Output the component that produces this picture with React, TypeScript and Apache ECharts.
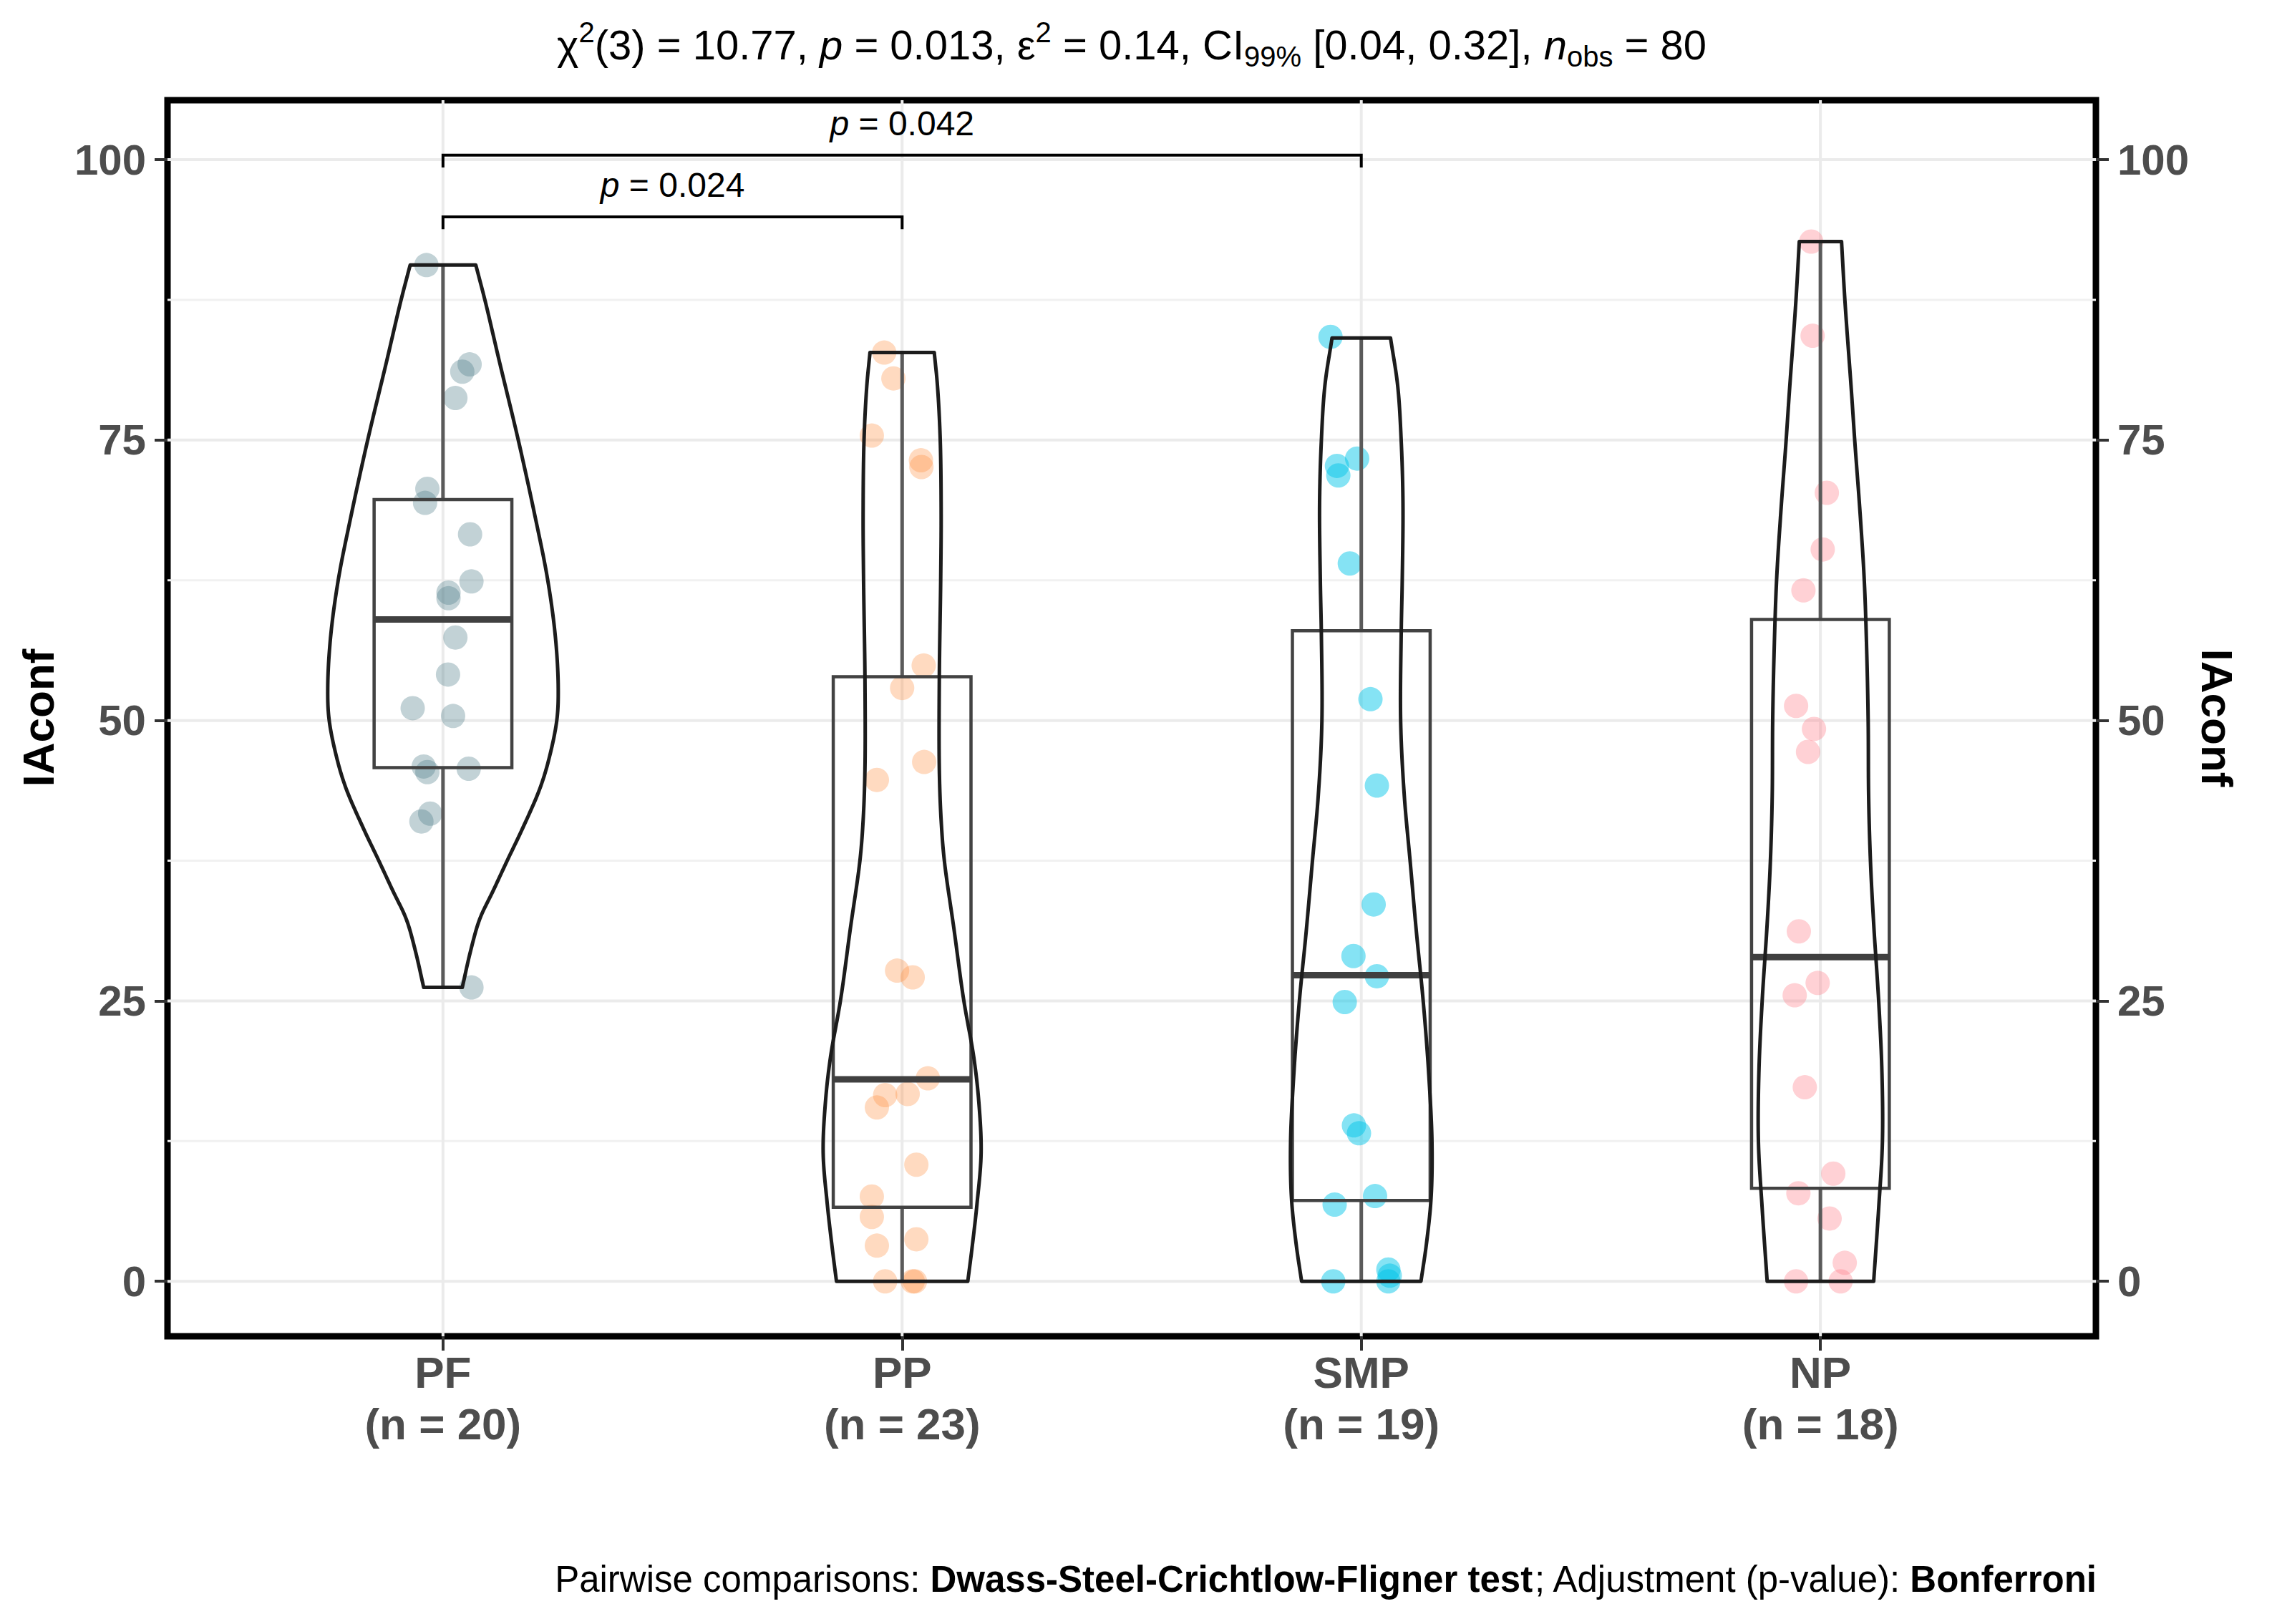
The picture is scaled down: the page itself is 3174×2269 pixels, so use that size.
import React, { useEffect, useRef } from "react";
import * as echarts from "echarts";

const FONT = "'Liberation Sans', Arial, Helvetica, sans-serif";

// ---------- data ----------
const categories = ["PF", "PP", "SMP", "NP"];
const groupSizes = [20, 23, 19, 18];
const pointColors = [
  "rgba(75,122,132,0.42)",
  "rgba(255,140,58,0.40)",
  "rgba(0,197,232,0.60)",
  "rgba(255,127,138,0.45)",
];

const pfValues = [90.6, 81.75, 81.1, 78.75, 70.65, 69.4, 66.6, 62.4, 61.4, 60.9, 57.4, 54.1, 51.1, 50.4, 45.9, 45.4, 45.7, 41.7, 41.0, 26.2];
const pfJitter = [-0.036, 0.058, 0.042, 0.027, -0.034, -0.039, 0.059, 0.062, 0.012, 0.012, 0.027, 0.011, -0.066, 0.022, -0.042, -0.034, 0.056, -0.028, -0.047, 0.062];

const ppValues = [82.8, 80.5, 75.4, 73.2, 72.6, 54.9, 52.9, 46.3, 44.7, 27.7, 27.1, 18.1, 16.6, 16.7, 15.5, 10.4, 7.56, 5.74, 3.18, 3.75, 0, 0, 0];
const ppJitter = [-0.039, -0.019, -0.066, 0.041, 0.042, 0.047, 0.0, 0.048, -0.055, -0.011, 0.023, 0.056, -0.037, 0.012, -0.055, 0.031, -0.066, -0.066, -0.055, 0.031, -0.037, 0.023, 0.028];

const smpValues = [84.2, 73.35, 72.7, 71.85, 64.0, 51.9, 44.2, 33.6, 29.0, 27.2, 24.9, 13.9, 13.2, 6.84, 7.6, 0, 1.05, 0, 0.5];
const smpJitter = [-0.067, -0.009, -0.053, -0.05, -0.025, 0.02, 0.034, 0.027, -0.017, 0.034, -0.036, -0.016, -0.005, -0.058, 0.03, -0.061, 0.059, 0.059, 0.062];

const npValues = [92.7, 84.3, 70.3, 65.25, 61.6, 51.3, 49.25, 47.2, 31.2, 26.6, 25.5, 17.3, 9.6, 7.85, 5.6, 1.65, 0, 0];
const npJitter = [-0.02, -0.017, 0.014, 0.005, -0.037, -0.053, -0.014, -0.027, -0.047, -0.006, -0.056, -0.034, 0.028, -0.048, 0.02, 0.053, -0.053, 0.044];

const groupValues = [pfValues, ppValues, smpValues, npValues];
const groupJitter = [pfJitter, ppJitter, smpJitter, npJitter];

// box statistics
const boxQ1 = [45.8, 6.6, 7.2, 8.3];
const boxMedian = [59.0, 18.0, 27.3, 28.9];
const boxQ3 = [69.7, 53.9, 58.0, 59.0];
const whiskerLow = [26.2, 0, 0, 0];
const whiskerHigh = [90.6, 82.8, 84.1, 92.7];

// violin outlines (value, half width in category units)
const pfViolinY = [90.6, 87.44, 81.98, 75.0, 68.1, 62.55, 57.36, 52.88, 50.06, 46.61, 43.93, 40.35, 37.52, 34.97, 32.29, 29.6, 26.2];
const pfViolinW = [0.0715, 0.0916, 0.123, 0.164, 0.201, 0.228, 0.245, 0.251, 0.248, 0.231, 0.211, 0.173, 0.14, 0.111, 0.08, 0.061, 0.042];
const ppViolinY = [82.8, 79.8, 75.0, 68.4, 62.55, 53.9, 45.6, 41.07, 37.48, 31.38, 25.11, 19.99, 16.0, 11.44, 6.88, 2.89, 0];
const ppViolinW = [0.07, 0.077, 0.083, 0.085, 0.084, 0.081, 0.081, 0.085, 0.092, 0.113, 0.134, 0.156, 0.167, 0.172, 0.163, 0.152, 0.143];
const smpViolinY = [84.1, 79.84, 74.9, 69.4, 62.46, 57.82, 49.88, 43.34, 37.37, 31.17, 24.92, 18.43, 12.35, 7.42, 3.37, 0];
const smpViolinW = [0.0637, 0.0793, 0.087, 0.0908, 0.0892, 0.087, 0.0858, 0.0936, 0.1066, 0.12, 0.135, 0.147, 0.154, 0.152, 0.142, 0.13];
const npViolinY = [92.7, 87.4, 79.3, 74.86, 68.53, 62.4, 55.9, 49.9, 43.25, 37.43, 31.87, 24.91, 18.6, 12.4, 6.59, 0];
const npViolinW = [0.046, 0.0534, 0.0676, 0.0749, 0.0863, 0.0956, 0.101, 0.104, 0.105, 0.109, 0.116, 0.127, 0.134, 0.135, 0.127, 0.116];

const violinY = [pfViolinY, ppViolinY, smpViolinY, npViolinY];
const violinW = [pfViolinW, ppViolinW, smpViolinW, npViolinW];

const yTicks = [0, 25, 50, 75, 100];
const yMinorGrid = [12.5, 37.5, 62.5, 87.5];

// pairwise comparisons
const sigFrom = [1, 1];
const sigTo = [3, 2];
const sigY = [100.4, 94.9];
const sigP = ["0.042", "0.024"];

// ---------- helpers ----------
function smoothPath(pts: number[][], steps = 12): number[][] {
  // centripetal Catmull-Rom through the outline points
  const out: number[][] = [];
  const n = pts.length;
  const ext = (i: number) => {
    if (i < 0) return [2 * pts[0][0] - pts[1][0], 2 * pts[0][1] - pts[1][1]];
    if (i >= n) return [2 * pts[n - 1][0] - pts[n - 2][0], 2 * pts[n - 1][1] - pts[n - 2][1]];
    return pts[i];
  };
  const tj = (ti: number, a: number[], b: number[]) => ti + Math.pow(Math.hypot(b[0] - a[0], b[1] - a[1]) || 1e-6, 0.5);
  for (let i = 0; i < n - 1; i++) {
    const p0 = ext(i - 1);
    const p1 = pts[i];
    const p2 = pts[i + 1];
    const p3 = ext(i + 2);
    const t0 = 0;
    const t1 = tj(t0, p0, p1);
    const t2 = tj(t1, p1, p2);
    const t3 = tj(t2, p2, p3);
    for (let s = 0; s < steps; s++) {
      const t = t1 + ((t2 - t1) * s) / steps;
      const pt: number[] = [];
      for (let d = 0; d < 2; d++) {
        const A1 = ((t1 - t) / (t1 - t0)) * p0[d] + ((t - t0) / (t1 - t0)) * p1[d];
        const A2 = ((t2 - t) / (t2 - t1)) * p1[d] + ((t - t1) / (t2 - t1)) * p2[d];
        const A3 = ((t3 - t) / (t3 - t2)) * p2[d] + ((t - t2) / (t3 - t2)) * p3[d];
        const B1 = ((t2 - t) / (t2 - t0)) * A1 + ((t - t0) / (t2 - t0)) * A2;
        const B2 = ((t3 - t) / (t3 - t1)) * A2 + ((t - t1) / (t3 - t1)) * A3;
        pt.push(((t2 - t) / (t2 - t1)) * B1 + ((t - t1) / (t2 - t1)) * B2);
      }
      out.push(pt);
    }
  }
  out.push(pts[n - 1]);
  return out;
}

const X_MIN = 0.4;
const X_MAX = 4.6;
const Y_MIN = -4.9;
const Y_MAX = 105.3;

function buildOption(): any {
  const hGridData = yTicks.map((v) => [2.5, v, 1]).concat(yMinorGrid.map((v) => [2.5, v, 0]));
  const vGridData = categories.map((_, i) => [i + 1, 50]);

  const scatterSeries = categories.map((name, i) => ({
    type: "scatter",
    name,
    z: 2,
    silent: true,
    symbol: "circle",
    symbolSize: 34,
    itemStyle: { color: pointColors[i] },
    data: groupValues[i].map((v, k) => [i + 1 + groupJitter[i][k], v]),
  }));

  const tickLabel = {
    customValues: yTicks,
    fontSize: 60,
    fontWeight: "bold",
    color: "#4D4D4D",
    fontFamily: FONT,
    margin: 30,
  };
  const tickStyle = {
    show: true,
    customValues: yTicks,
    length: 18,
    lineStyle: { color: "#333", width: 4 },
  };

  return {
    animation: false,
    backgroundColor: "#ffffff",
    grid: {
      left: 234,
      right: 246,
      top: 140,
      bottom: 402,
      show: true,
      borderColor: "#000",
      borderWidth: 9,
      backgroundColor: "transparent",
    },
    xAxis: {
      type: "value",
      min: X_MIN,
      max: X_MAX,
      position: "bottom",
      z: 10,
      axisLine: { show: false, onZero: false },
      splitLine: { show: false },
      axisTick: {
        show: true,
        customValues: [1, 2, 3, 4],
        length: 20,
        lineStyle: { color: "#333", width: 4 },
      },
      axisLabel: {
        customValues: [1, 2, 3, 4],
        margin: 14,
        formatter: (v: number) => {
          const i = Math.round(v) - 1;
          return `{c|${categories[i]}}\n{c|(n = ${groupSizes[i]})}`;
        },
        rich: {
          c: { fontSize: 62, fontWeight: "bold", color: "#4D4D4D", fontFamily: FONT, lineHeight: 72 },
        },
      },
    },
    yAxis: [
      {
        type: "value",
        position: "left",
        min: Y_MIN,
        max: Y_MAX,
        z: 10,
        axisLine: { show: false, onZero: false },
        splitLine: { show: false },
        axisTick: tickStyle,
        axisLabel: tickLabel,
      },
      {
        type: "value",
        position: "right",
        min: Y_MIN,
        max: Y_MAX,
        z: 10,
        axisLine: { show: false, onZero: false },
        splitLine: { show: false },
        axisTick: tickStyle,
        axisLabel: tickLabel,
      },
    ],
    graphic: [
      {
        type: "text",
        x: 1581,
        y: 62,
        style: {
          text:
            "{t|χ}{sup|2}{t|(3) = 10.77, }{i|p}{t| = 0.013, ε}{sup|2}{t| = 0.14, CI}{sub|99%}{t| [0.04, 0.32], }{i|n}{sub|obs}{t| = 80}",
          align: "center",
          verticalAlign: "middle",
          rich: {
            t: { fontSize: 58, fontFamily: FONT, color: "#000", lineHeight: 74 },
            i: { fontSize: 58, fontFamily: FONT, color: "#000", fontStyle: "italic", lineHeight: 74 },
            sup: { fontSize: 40, fontFamily: FONT, color: "#000", verticalAlign: "top", lineHeight: 40 },
            sub: { fontSize: 40, fontFamily: FONT, color: "#000", verticalAlign: "bottom", lineHeight: 40 },
          },
        },
      },
      {
        type: "text",
        x: 2929,
        y: 2206,
        style: {
          text: "{t|Pairwise comparisons: }{b|Dwass-Steel-Crichtlow-Fligner test}{t|; Adjustment (p-value): }{b|Bonferroni}",
          align: "right",
          verticalAlign: "middle",
          rich: {
            t: { fontSize: 51, fontFamily: FONT, color: "#000" },
            b: { fontSize: 51, fontFamily: FONT, color: "#000", fontWeight: "bold" },
          },
        },
      },
      {
        type: "text",
        x: 53,
        y: 1003,
        rotation: Math.PI / 2,
        style: {
          text: "IAconf",
          align: "center",
          verticalAlign: "middle",
          fontSize: 62,
          fontWeight: "bold",
          fontFamily: FONT,
          fill: "#000",
        },
      },
      {
        type: "text",
        x: 3097,
        y: 1003,
        rotation: -Math.PI / 2,
        style: {
          text: "IAconf",
          align: "center",
          verticalAlign: "middle",
          fontSize: 62,
          fontWeight: "bold",
          fontFamily: FONT,
          fill: "#000",
        },
      },
    ],
    series: [
      {
        type: "custom",
        name: "hgrid",
        z: 0,
        silent: true,
        clip: true,
        data: hGridData,
        renderItem: (params: any, api: any) => {
          const v = api.value(1);
          const major = api.value(2) === 1;
          const a = api.coord([X_MIN, v]);
          const b = api.coord([X_MAX, v]);
          return {
            type: "line",
            shape: { x1: a[0], y1: a[1], x2: b[0], y2: b[1] },
            style: { stroke: major ? "#EBEBEB" : "#F1F1F1", lineWidth: major ? 4 : 3 },
          };
        },
      },
      {
        type: "custom",
        name: "vgrid",
        z: 0,
        silent: true,
        clip: true,
        data: vGridData,
        renderItem: (params: any, api: any) => {
          const x = api.value(0);
          const a = api.coord([x, Y_MIN]);
          const b = api.coord([x, Y_MAX]);
          return {
            type: "line",
            shape: { x1: a[0], y1: a[1], x2: b[0], y2: b[1] },
            style: { stroke: "#EBEBEB", lineWidth: 4 },
          };
        },
      },
      ...scatterSeries,
      {
        type: "custom",
        name: "box",
        z: 3,
        silent: true,
        data: categories.map((_, i) => [i + 1, boxQ1[i], boxMedian[i], boxQ3[i], whiskerLow[i], whiskerHigh[i]]),
        renderItem: (params: any, api: any) => {
          const x = api.value(0);
          const q1 = api.coord([x, api.value(1)]);
          const med = api.coord([x, api.value(2)]);
          const q3 = api.coord([x, api.value(3)]);
          const lo = api.coord([x, api.value(4)]);
          const hi = api.coord([x, api.value(5)]);
          const halfW = api.size([0.15, 0])[0];
          const cx = q1[0];
          const lineColor = "#424242";
          return {
            type: "group",
            children: [
              {
                type: "line",
                shape: { x1: cx, y1: q3[1], x2: cx, y2: hi[1] },
                style: { stroke: "#5A5A5A", lineWidth: 5 },
              },
              {
                type: "line",
                shape: { x1: cx, y1: q1[1], x2: cx, y2: lo[1] },
                style: { stroke: "#5A5A5A", lineWidth: 5 },
              },
              {
                type: "rect",
                shape: { x: cx - halfW, y: q3[1], width: 2 * halfW, height: q1[1] - q3[1] },
                style: { fill: "none", stroke: lineColor, lineWidth: 4.5 },
              },
              {
                type: "line",
                shape: { x1: cx - halfW, y1: med[1], x2: cx + halfW, y2: med[1] },
                style: { stroke: "#404040", lineWidth: 9 },
              },
            ],
          };
        },
      },
      {
        type: "custom",
        name: "violin",
        z: 4,
        silent: true,
        data: categories.map((_, i) => [i + 1, 50]),
        renderItem: (params: any, api: any) => {
          const i = params.dataIndex;
          const cx = i + 1;
          const ys = violinY[i];
          const ws = violinW[i];
          const order = ys.map((_, k) => k).sort((a, b) => ys[a] - ys[b]);
          const left = order.map((k) => api.coord([cx - ws[k], ys[k]]));
          const right = order
            .slice()
            .reverse()
            .map((k) => api.coord([cx + ws[k], ys[k]]));
          const pts = smoothPath(left).concat(smoothPath(right));
          return {
            type: "polygon",
            shape: { points: pts },
            style: { fill: "none", stroke: "#1C1C1C", lineWidth: 5, lineJoin: "round" },
          };
        },
      },
      {
        type: "custom",
        name: "pairwise",
        z: 5,
        silent: true,
        clip: false,
        data: sigFrom.map((f, k) => [f, sigY[k], sigTo[k], k]),
        renderItem: (params: any, api: any) => {
          const k = params.dataIndex;
          const y = api.value(1);
          const a = api.coord([api.value(0), y]);
          const b = api.coord([api.value(2), y]);
          const drop = api.coord([api.value(0), y - 1.1])[1];
          return {
            type: "group",
            children: [
              {
                type: "polyline",
                shape: { points: [[a[0], drop], [a[0], a[1]], [b[0], b[1]], [b[0], drop]] },
                style: { fill: "none", stroke: "#000", lineWidth: 4 },
              },
              {
                type: "text",
                x: (a[0] + b[0]) / 2,
                y: a[1] - 44,
                style: {
                  text: `{i|p}{t| = ${sigP[k]}}`,
                  align: "center",
                  verticalAlign: "middle",
                  rich: {
                    i: { fontSize: 48, fontFamily: FONT, fontStyle: "italic", color: "#000" },
                    t: { fontSize: 48, fontFamily: FONT, color: "#000" },
                  },
                },
              },
            ],
          };
        },
      },
    ],
  };
}

export default function App() {
  const ref = useRef<HTMLDivElement>(null);
  useEffect(() => {
    if (!ref.current) return;
    const chart = echarts.init(ref.current, null, { renderer: "svg", width: 3174, height: 2269 });
    chart.setOption(buildOption());
    return () => {
      chart.dispose();
    };
  }, []);
  return (
    <div
      ref={ref}
      style={{ position: "fixed", left: 0, top: 0, width: 3174, height: 2269, background: "#fff" }}
    />
  );
}
